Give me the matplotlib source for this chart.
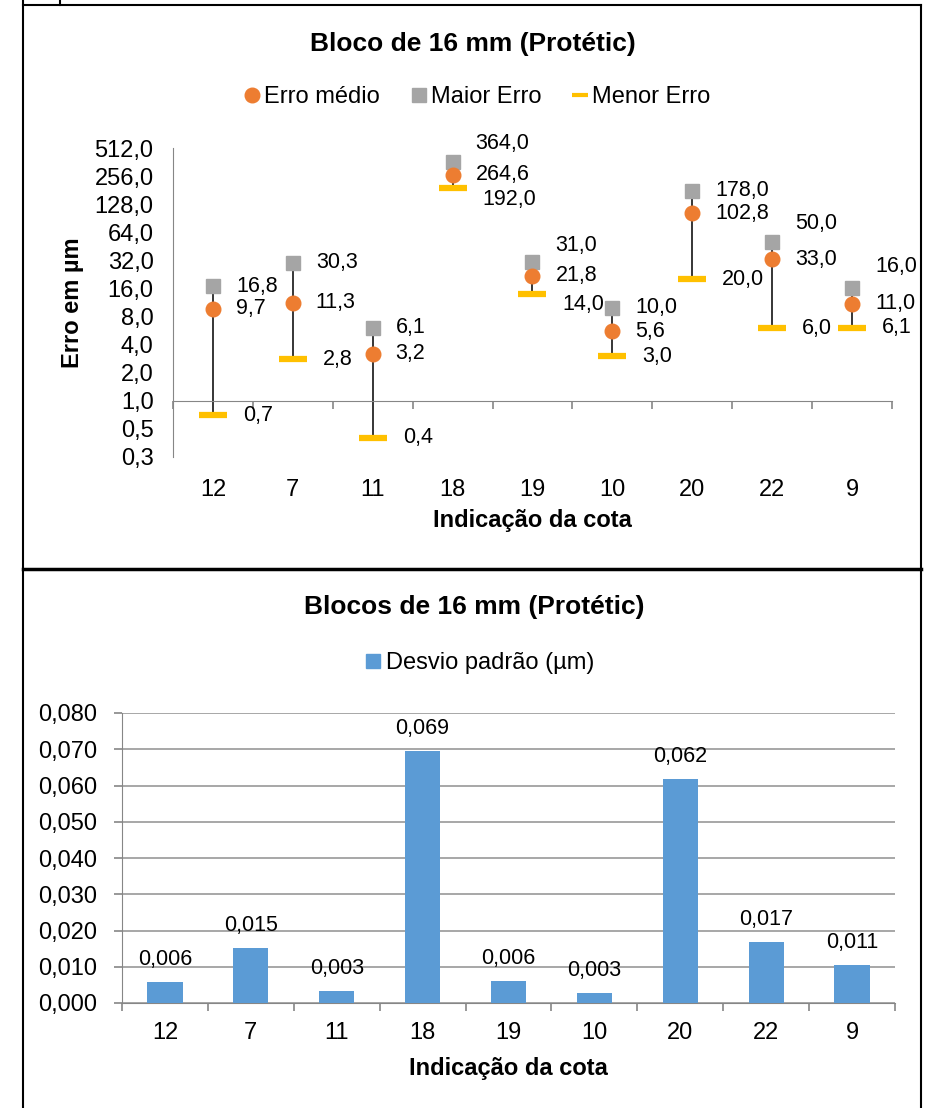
import numpy as np
import matplotlib
matplotlib.use("Agg")
import matplotlib.pyplot as plt
from matplotlib.lines import Line2D
from matplotlib.ticker import FixedLocator, FuncFormatter

plt.rcParams['font.family'] = ['Liberation Sans', 'DejaVu Sans']

# dados
cotas = ['12', '7', '11', '18', '19', '10', '20', '22', '9']
erro_medio = [9.7, 11.3, 3.2, 264.6, 21.8, 5.6, 102.8, 33.0, 11.0]
maior_erro = [16.8, 30.3, 6.1, 364.0, 31.0, 10.0, 178.0, 50.0, 16.0]
menor_erro = [0.7, 2.8, 0.4, 192.0, 14.0, 3.0, 20.0, 6.0, 6.1]
desvio = [0.0058, 0.0153, 0.0033, 0.0694, 0.0061, 0.0028, 0.0619, 0.0169, 0.0106]

# deslocamento vertical (px) dos rótulos
dy_maior = [0, 0, 0, 18, 16, 0, 0, 19, 22]
dy_menor = [0, 0, 0, -12, -11, 0, 0, 0, 0]

W, H = 928, 1108
FS = 15.5      # rótulos de dados
FT = 17        # eixos / legenda
FTIT = 19      # títulos
GRAY = '#868686'
LARANJA, CINZA, AMARELO, AZUL = '#ED7D31', '#A5A5A5', '#FFC000', '#5B9BD5'


def fx(x):
    return x / W


def fy(y):
    return 1 - y / H


def rect(l, t, r, b):
    return [fx(l), fy(b), fx(r) - fx(l), fy(t) - fy(b)]


def virgula(v, casas):
    return f"{v + 1e-9:.{casas}f}".replace('.', ',')


fig = plt.figure(figsize=(W / 100, H / 100), dpi=100)

# molduras
kw = dict(color='black', lw=1.5, transform=fig.transFigure)
fig.add_artist(Line2D([fx(23.5), fx(23.5)], [fy(0), fy(1108)], **kw))
fig.add_artist(Line2D([fx(921), fx(921)], [fy(5), fy(1108)], **kw))
fig.add_artist(Line2D([fx(23.5), fx(921)], [fy(5), fy(5)], **kw))
fig.add_artist(Line2D([fx(60.5), fx(60.5)], [fy(0), fy(5)], **kw))
fig.add_artist(Line2D([fx(23.5), fx(921)], [fy(569), fy(569)],
                      color='black', lw=2.5, transform=fig.transFigure))

# ---------- gráfico 1 ----------
x = np.arange(len(cotas))
ax = fig.add_axes(rect(173, 148, 892, 457))
ax.set_yscale('log', base=2)
ax.set_ylim(0.25, 512)
ax.set_xlim(-0.5, len(cotas) - 0.5)

ax.vlines(x, menor_erro, maior_erro, color='black', lw=1.1, zorder=1)
ax.plot(x, maior_erro, 's', color=CINZA, ms=9.5, ls='none', zorder=3)
ax.plot(x, erro_medio, 'o', color=LARANJA, ms=10.5, ls='none', zorder=4)
ax.plot(x, menor_erro, '_', color=AMARELO, ms=20, mew=4.5, ls='none', zorder=5)

for i in range(len(cotas)):
    ax.annotate(virgula(maior_erro[i], 1), (x[i], maior_erro[i]),
                xytext=(23, dy_maior[i]), textcoords='offset pixels',
                ha='left', va='center', fontsize=FS)
    ax.annotate(virgula(erro_medio[i], 1), (x[i], erro_medio[i]),
                xytext=(23, 0), textcoords='offset pixels',
                ha='left', va='center', fontsize=FS)
    ax.annotate(virgula(menor_erro[i], 1), (x[i], menor_erro[i]),
                xytext=(30, dy_menor[i]), textcoords='offset pixels',
                ha='left', va='center', fontsize=FS)

for s in ['top', 'right']:
    ax.spines[s].set_visible(False)
ax.spines['left'].set_color(GRAY)
ax.spines['bottom'].set_color(GRAY)
ax.spines['bottom'].set_position(('data', 1))
ax.yaxis.set_major_locator(FixedLocator([2.0 ** k for k in range(-2, 10)]))
ax.yaxis.set_minor_locator(FixedLocator([]))
ax.yaxis.set_major_formatter(FuncFormatter(lambda v, p: virgula(v, 1)))
ax.tick_params(axis='y', length=0, pad=14, labelsize=FT)
ax.set_xticks([])
ax.set_xticks(np.arange(-0.5, len(cotas)), minor=True)
ax.tick_params(axis='x', which='minor', length=6, color=GRAY, width=1.2)

sec = ax.secondary_xaxis('bottom')
sec.set_xticks(x)
sec.set_xticklabels(cotas)
sec.tick_params(length=0, pad=16, labelsize=FT)
sec.spines['bottom'].set_visible(False)

fig.text(fx(473), fy(44), 'Bloco de 16 mm (Protétic)', ha='center',
         va='center', fontsize=FTIT, fontweight='bold')
fig.text(fx(532), fy(521), 'Indicação da cota', ha='center', va='center',
         fontsize=FT, fontweight='bold')
fig.text(fx(72), fy(303), 'Erro em µm', ha='center', va='center',
         fontsize=FT, fontweight='bold', rotation=90)

leg_h = [Line2D([], [], marker='o', color=LARANJA, ls='none', ms=10.5),
         Line2D([], [], marker='s', color=CINZA, ls='none', ms=9.5),
         Line2D([], [], marker='_', color=AMARELO, ls='none', ms=11, mew=3)]
fig.legend(leg_h, ['Erro médio', 'Maior Erro', 'Menor Erro'], loc='center',
           bbox_to_anchor=(fx(477), fy(97)), ncol=3, frameon=False,
           fontsize=FT, handlelength=0.7, handletextpad=0.15,
           columnspacing=1.3)

# ---------- gráfico 2 ----------
bx = fig.add_axes(rect(122, 713, 895, 1003))
bx.bar(x, desvio, width=0.41, color=AZUL, zorder=3)
bx.set_xlim(-0.5, len(cotas) - 0.5)
bx.set_ylim(0, 0.08)
bx.set_yticks(np.arange(0, 0.0801, 0.01))
bx.yaxis.set_major_formatter(FuncFormatter(lambda v, p: virgula(v, 3)))
bx.grid(axis='y', color='#A0A0A0', lw=1.3, zorder=0)
for i, v in enumerate(desvio):
    bx.annotate(virgula(v, 3), (x[i], v), xytext=(0, 12),
                textcoords='offset pixels', ha='center', va='bottom',
                fontsize=FS)
for s in ['top', 'right']:
    bx.spines[s].set_visible(False)
bx.spines['left'].set_color(GRAY)
bx.spines['bottom'].set_color(GRAY)
bx.set_xticks(x)
bx.set_xticklabels(cotas)
bx.set_xticks(np.arange(-0.5, len(cotas)), minor=True)
bx.tick_params(axis='x', which='major', length=0, pad=14, labelsize=FT)
bx.tick_params(axis='x', which='minor', length=6, color=GRAY, width=1.2)
bx.tick_params(axis='y', length=6, color=GRAY, width=1.2, pad=12, labelsize=FT)

fig.text(fx(474), fy(607), 'Blocos de 16 mm (Protétic)', ha='center',
         va='center', fontsize=FTIT, fontweight='bold')
fig.text(fx(508), fy(1068), 'Indicação da cota', ha='center', va='center',
         fontsize=FT, fontweight='bold')
leg_b = [Line2D([], [], marker='s', color=AZUL, ls='none', ms=10)]
fig.legend(leg_b, ['Desvio padrão (µm)'], loc='center',
           bbox_to_anchor=(fx(480), fy(663)), frameon=False, fontsize=FT,
           handlelength=0.7, handletextpad=0.2)

fig.savefig('out.png', dpi=100)
